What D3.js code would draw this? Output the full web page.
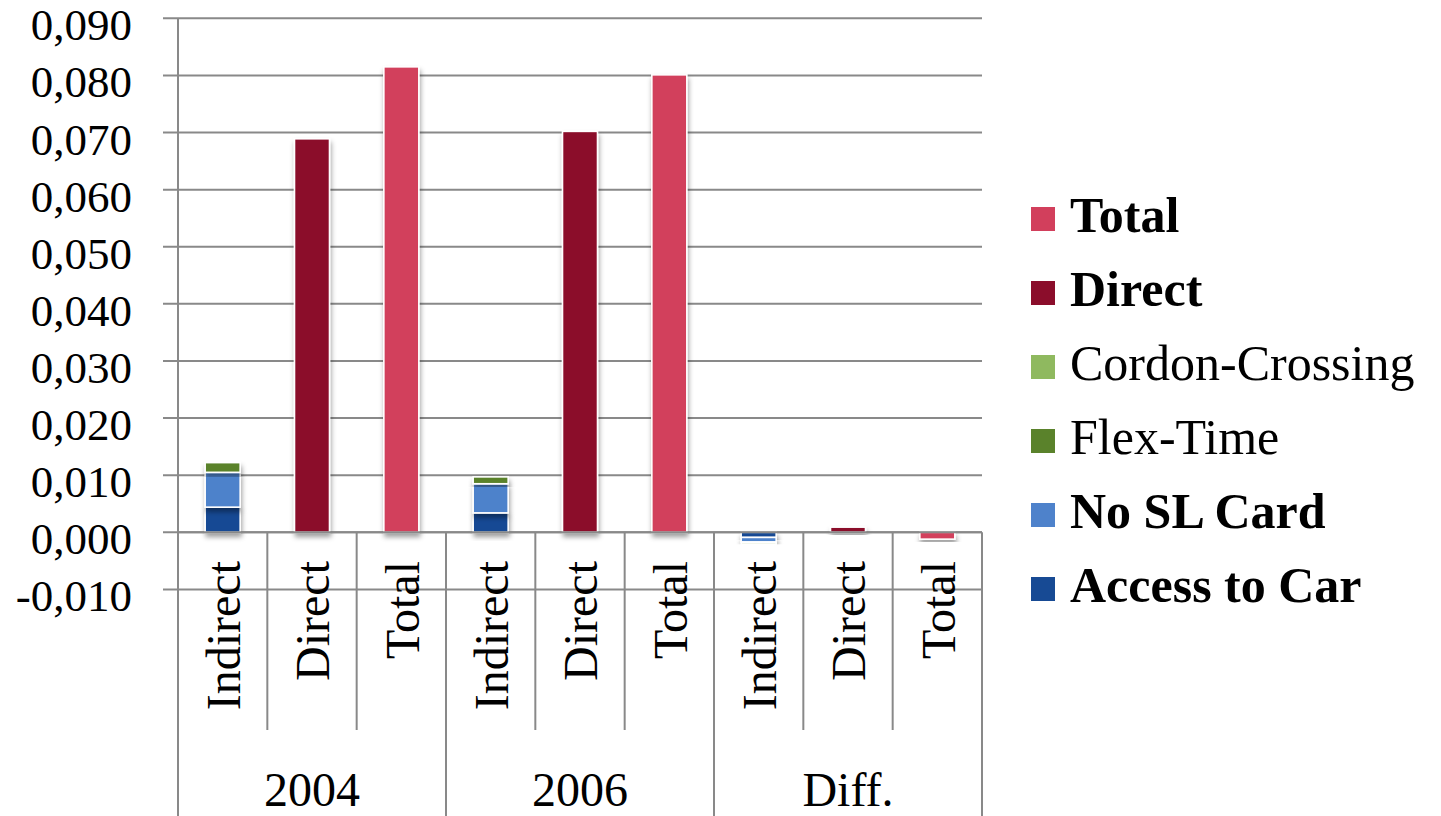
<!DOCTYPE html>
<html>
<head>
<meta charset="utf-8">
<script src="https://cdn.jsdelivr.net/npm/d3@7"></script>
<style>
  html, body { margin: 0; padding: 0; background: #fff; }
  svg { display: block; font-family: "Liberation Serif", "Times New Roman", serif; }
</style>
</head>
<body>
<svg id="chart" width="1441" height="816"></svg>
<script>
// ---- data ----
const groups = ["2004", "2006", "Diff."];
const kinds = ["Indirect", "Direct", "Total"];
const yTicks = [-0.01, 0, 0.01, 0.02, 0.03, 0.04, 0.05, 0.06, 0.07, 0.08, 0.09];

// one value per bar slot: 2004 Indirect/Direct/Total, 2006 ..., Diff. ...
const accessToCar    = [0.0044, 0, 0, 0.0034, 0, 0, -0.0009, 0, 0];
const noSLCard       = [0.0061, 0, 0, 0.0051, 0, 0, -0.0008, 0, 0];
const flexTime       = [0.0017, 0, 0, 0.0012, 0, 0, -0.0001, 0, 0];
const cordonCrossing = [0, 0, 0, 0, 0, 0, -0.0003, 0, 0];
const direct         = [0, 0.0689, 0, 0, 0.0702, 0, 0, 0.0009, 0];
const total          = [0, 0, 0.0815, 0, 0, 0.0801, 0, 0, -0.0012];

const seriesNames = ["Access to Car", "No SL Card", "Flex-Time", "Cordon-Crossing", "Direct", "Total"];
const seriesValues = [accessToCar, noSLCard, flexTime, cordonCrossing, direct, total];
const seriesColors = ["#174a94", "#4e82cb", "#5a822b", "#8fb95f", "#8b0d2b", "#d23f5c"];
const seriesBold = [true, true, false, false, true, true];

// ---- layout ----
const svg = d3.select("#chart");
const left = 178, right = 982, zeroTop = 18;
const slots = groups.flatMap(g => kinds.map(k => g + "|" + k));

const x = d3.scaleBand().domain(slots).range([left, right]).padding(0);
const y = d3.scaleLinear().domain([-0.01, 0.09]).range([589.4, 18.3]);
const barW = 35;

const rows = slots.map((s, i) => {
  const r = { slot: s };
  seriesNames.forEach((n, j) => r[n] = seriesValues[j][i]);
  return r;
});
const stacked = d3.stack().keys(seriesNames).offset(d3.stackOffsetDiverging)(rows);

const defs = svg.append("defs");
const f = defs.append("filter").attr("id", "shadow")
  .attr("x", "-40%").attr("y", "-40%").attr("width", "180%").attr("height", "180%");
f.append("feDropShadow").attr("dx", 1).attr("dy", 4).attr("stdDeviation", 2.6)
  .attr("flood-color", "#000").attr("flood-opacity", 0.38);

const gridColor = "#898989";

// horizontal gridlines with short ticks left of the axis
svg.append("g").selectAll("line").data(yTicks).join("line")
  .attr("x1", left - 15).attr("x2", right)
  .attr("y1", d => y(d)).attr("y2", d => y(d))
  .attr("stroke", gridColor).attr("stroke-width", 2);

// value axis labels
const fmt = v => (v < 0 ? "-" : "") + d3.format(".3f")(Math.abs(v)).replace(".", ",");
svg.append("g").selectAll("text").data(yTicks).join("text")
  .attr("x", 132).attr("y", d => y(d) + 22)
  .attr("text-anchor", "end").attr("font-size", 45).attr("fill", "#000")
  .text(fmt);

// bars
const barLayer = svg.append("g");
stacked.forEach((layer, j) => {
  barLayer.append("g").selectAll("rect")
    .data(layer.filter(d => d[1] - d[0] !== 0))
    .join("rect")
    .attr("x", d => x(d.data.slot) + x.bandwidth() / 2 - barW / 2)
    .attr("width", barW)
    .attr("y", d => y(Math.max(d[0], d[1])))
    .attr("height", d => Math.abs(y(d[0]) - y(d[1])))
    .attr("fill", seriesColors[j])
    .attr("stroke", "#fff").attr("stroke-width", 1.6)
    .attr("filter", "url(#shadow)");
});

// category axis: zero line, axis line, separators
const y0 = y(0);
svg.append("line").attr("x1", left).attr("x2", right).attr("y1", y0).attr("y2", y0)
  .attr("stroke", gridColor).attr("stroke-width", 2);
svg.append("line").attr("x1", left).attr("x2", left).attr("y1", zeroTop).attr("y2", 816)
  .attr("stroke", gridColor).attr("stroke-width", 2);

const bounds = d3.range(slots.length + 1);
svg.append("g").selectAll("line").data(bounds).join("line")
  .attr("x1", i => i === slots.length ? right : x(slots[i]))
  .attr("x2", i => i === slots.length ? right : x(slots[i]))
  .attr("y1", y0)
  .attr("y2", i => i % 3 === 0 ? 816 : 730)
  .attr("stroke", gridColor).attr("stroke-width", 2);

// rotated category labels
svg.append("g").selectAll("text").data(slots).join("text")
  .attr("transform", s => `translate(${x(s) + x.bandwidth() / 2},561) rotate(-90)`)
  .attr("dy", "0.36em")
  .attr("text-anchor", "end").attr("font-size", 48).attr("fill", "#000")
  .text(s => s.split("|")[1]);

// group labels
svg.append("g").selectAll("text").data(groups).join("text")
  .attr("x", (g, i) => (x(slots[i * 3]) + (i === 2 ? right : x(slots[i * 3 + 3]))) / 2)
  .attr("y", 806)
  .attr("text-anchor", "middle").attr("font-size", 48).attr("fill", "#000")
  .text(g => g);

// legend (top to bottom in reverse stacking order)
const legendOrder = d3.range(seriesNames.length).reverse();
const legend = svg.append("g").selectAll("g").data(legendOrder).join("g")
  .attr("transform", (j, i) => `translate(1031,${232 + i * 74})`);
legend.append("rect")
  .attr("x", 0).attr("y", -25).attr("width", 24).attr("height", 24)
  .attr("fill", j => seriesColors[j]);
legend.append("text")
  .attr("x", 39).attr("y", 0)
  .attr("font-size", 50).attr("fill", "#000")
  .attr("font-weight", j => seriesBold[j] ? "bold" : "normal")
  .text(j => seriesNames[j]);
</script>
</body>
</html>
